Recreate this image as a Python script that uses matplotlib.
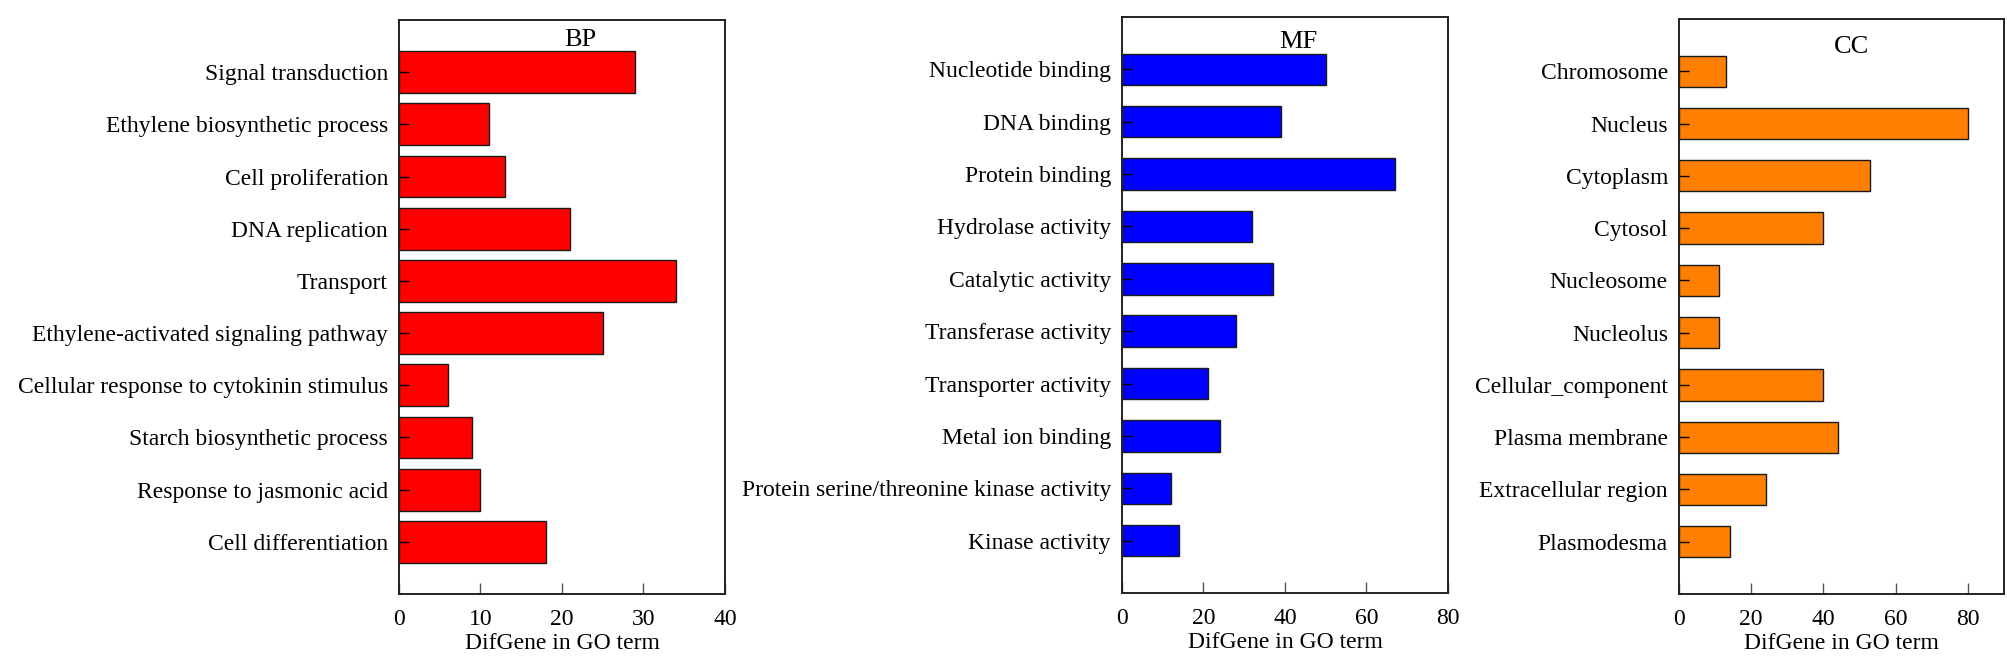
import matplotlib
matplotlib.use("Agg")
import matplotlib.pyplot as plt

bp_terms = ["Signal transduction", "Ethylene biosynthetic process", "Cell proliferation",
            "DNA replication", "Transport", "Ethylene-activated signaling pathway",
            "Cellular response to cytokinin stimulus", "Starch biosynthetic process",
            "Response to jasmonic acid", "Cell differentiation"]
bp_values = [29, 11, 13, 21, 34, 25, 6, 9, 10, 18]

mf_terms = ["Nucleotide binding", "DNA binding", "Protein binding", "Hydrolase activity",
            "Catalytic activity", "Transferase activity", "Transporter activity",
            "Metal ion binding", "Protein serine/threonine kinase activity", "Kinase activity"]
mf_values = [50, 39, 67, 32, 37, 28, 21, 24, 12, 14]

cc_terms = ["Chromosome", "Nucleus", "Cytoplasm", "Cytosol", "Nucleosome", "Nucleolus",
            "Cellular_component", "Plasma membrane", "Extracellular region", "Plasmodesma"]
cc_values = [13, 80, 53, 40, 11, 11, 40, 44, 24, 14]

bp_ticks = [0, 10, 20, 30, 40]
mf_ticks = [0, 20, 40, 60, 80]
cc_ticks = [0, 20, 40, 60, 80]

plt.rcParams['font.family'] = ['Liberation Serif', 'DejaVu Serif']

W, H = 2008, 670
fig = plt.figure(figsize=(W / 100, H / 100), dpi=100)
fig.patch.set_facecolor('white')

panels = [
    dict(terms=bp_terms, vals=bp_values, ticks=bp_ticks, xlim=(0, 40), color='#FF0000',
         height=0.8, title='BP', tx=0.555, ty=0.965, rect=(399, 594, 326, 574)),
    dict(terms=mf_terms, vals=mf_values, ticks=mf_ticks, xlim=(0, 80), color='#0000FF',
         height=0.6, title='MF', tx=0.54, ty=0.957, rect=(1122, 593, 326, 576)),
    dict(terms=cc_terms, vals=cc_values, ticks=cc_ticks, xlim=(0, 90), color='#FF8000',
         height=0.6, title='CC', tx=0.53, ty=0.951, rect=(1679, 594, 325, 575)),
]

FS = 17
for p in panels:
    x0, yb, w, h = p['rect']
    ax = fig.add_axes([x0 / W, (H - yb) / H, w / W, h / H])
    n = len(p['terms'])
    pos = list(range(n))
    ax.barh(pos, p['vals'], height=p['height'], color=p['color'],
            edgecolor='#1a1a1a', linewidth=1.0)
    ax.set_ylim(n, -1)
    ax.set_xlim(*p['xlim'])
    ax.set_yticks(pos)
    ax.set_yticklabels(p['terms'], fontsize=FS)
    ax.set_xticks(p['ticks'])
    ax.set_xticklabels([str(t) for t in p['ticks']], fontsize=FS)
    ax.tick_params(axis='y', direction='in', length=7, width=1.0, pad=8)
    ax.tick_params(axis='x', direction='in', length=8, width=1.0, pad=11, color='#555555')
    for s in ax.spines.values():
        s.set_linewidth(1.4)
        s.set_color('#222222')
    ax.set_xlabel('DifGene in GO term', fontsize=FS, labelpad=2)
    ax.text(p['tx'], p['ty'], p['title'], transform=ax.transAxes, fontsize=19,
            ha='center', va='center')

fig.savefig('out.png', dpi=100, facecolor='white')
